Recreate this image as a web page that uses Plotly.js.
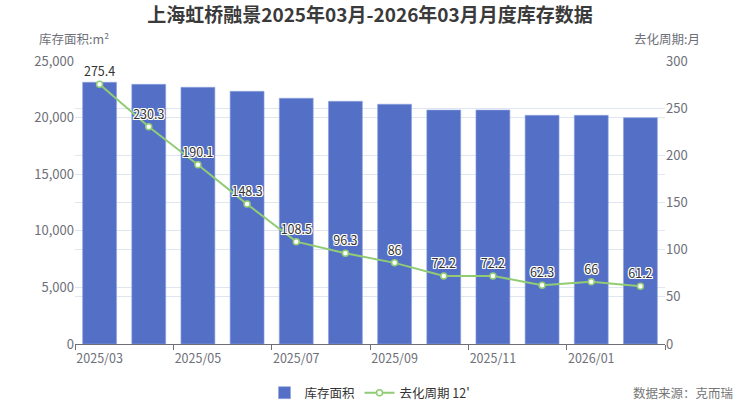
<!DOCTYPE html>
<html lang="zh">
<head>
    <meta charset="UTF-8">
    <title>上海虹桥融景库存数据</title>
    <script src="https://cdn.plot.ly/plotly-3.0.1.min.js"></script>
    <style>
        html, body { margin: 0; padding: 0; background: #fff; }
        #chart { width: 740px; height: 406px; }
    </style>
</head>
<body>
<div id="chart"></div>
<script>
    // 月份
    let months = ['2025/03', '2025/04', '2025/05', '2025/06', '2025/07', '2025/08',
        '2025/09', '2025/10', '2025/11', '2025/12', '2026/01', '2026/02'];
    // 库存面积 (m²)
    let stockArea = [23120, 22940, 22680, 22320, 21710, 21440,
        21180, 20670, 20670, 20200, 20200, 19990];
    // 去化周期 (月)
    let cycleMonths = [275.4, 230.3, 190.1, 148.3, 108.5, 96.3,
        86, 72.2, 72.2, 62.3, 66, 61.2];

    let font = '"Noto Sans CJK SC", "Noto Sans", sans-serif';
    let halo = '1px 1px 0 #fff, -1px -1px 0 #fff, 1px -1px 0 #fff, -1px 1px 0 #fff, 0 1px 0 #fff, 0 -1px 0 #fff, 1px 0 0 #fff, -1px 0 0 #fff';

    let barTrace = {
        x: months,
        y: stockArea,
        type: 'bar',
        name: '库存面积',
        marker: {color: '#5470c6', line: {color: '#8fa3e0', width: 0.6}},
        hoverinfo: 'x+y'
    };

    let lineTrace = {
        x: months,
        y: cycleMonths,
        type: 'scatter',
        mode: 'lines+markers+text',
        name: "去化周期 12'",
        yaxis: 'y2',
        text: cycleMonths.map(v => String(v)),
        textposition: 'top center',
        textfont: {family: font, size: 12.5, color: '#333', shadow: halo},
        line: {color: '#91cc75', width: 2},
        marker: {symbol: 'circle', size: 6, color: '#fff', line: {color: '#91cc75', width: 1.5}},
        cliponaxis: false
    };

    let layout = {
        width: 740,
        height: 406,
        margin: {l: 75, r: 75, t: 61, b: 62, autoexpand: false},
        paper_bgcolor: '#fff',
        plot_bgcolor: '#fff',
        font: {family: font, size: 12, color: '#6e7079'},
        title: {
            text: '<b>上海虹桥融景2025年03月-2026年03月月度库存数据</b>',
            font: {family: font, size: 19, color: '#3a3a3a'},
            x: 0.5, xanchor: 'center',
            y: 0.962, yanchor: 'middle'
        },
        bargap: 0.31,
        showlegend: true,
        legend: {
            orientation: 'h',
            x: 0.5, xanchor: 'center',
            yref: 'container',
            y: 0.032, yanchor: 'middle',
            font: {family: font, size: 12.5, color: '#333'},
            itemwidth: 30
        },
        xaxis: {
            type: 'category',
            range: [-0.5, 11.5],
            tickson: 'boundaries',
            tickmode: 'linear',
            tick0: 0,
            dtick: 2,
            tickangle: 0,
            ticks: 'outside',
            ticklen: 5,
            tickcolor: '#6e7079',
            ticklabelstandoff: 3,
            showline: true,
            linecolor: '#6e7079',
            linewidth: 1,
            showgrid: false,
            automargin: false,
            tickfont: {size: 12.5, color: '#6e7079'},
            fixedrange: true
        },
        yaxis: {
            range: [0, 25000],
            tickvals: [0, 5000, 10000, 15000, 20000, 25000],
            tickformat: ',',
            showgrid: true,
            gridcolor: '#e0e6f1',
            zeroline: false,
            showline: false,
            ticks: '',
            automargin: false,
            tickfont: {size: 13, color: '#6e7079'},
            fixedrange: true
        },
        yaxis2: {
            overlaying: 'y',
            side: 'right',
            range: [0, 300],
            tickvals: [0, 50, 100, 150, 200, 250, 300],
            showgrid: true,
            gridcolor: '#e0e6f1',
            zeroline: false,
            showline: false,
            ticks: '',
            automargin: false,
            tickfont: {size: 13, color: '#6e7079'},
            fixedrange: true
        },
        annotations: [
            {
                text: '库存面积:m²', xref: 'paper', yref: 'paper',
                x: -0.002, y: 1.08, xanchor: 'center', yanchor: 'middle',
                showarrow: false, font: {family: font, size: 12.5, color: '#6e7079'}
            },
            {
                text: '去化周期:月', xref: 'paper', yref: 'paper',
                x: 1.003, y: 1.08, xanchor: 'center', yanchor: 'middle',
                showarrow: false, font: {family: font, size: 12.5, color: '#6e7079'}
            },
            {
                text: '数据来源：克而瑞', xref: 'paper', yref: 'paper',
                x: 1.118, y: -0.173, xanchor: 'right', yanchor: 'middle',
                showarrow: false, font: {family: font, size: 12.5, color: '#777'}
            }
        ]
    };

    Plotly.newPlot('chart', [barTrace, lineTrace], layout, {displayModeBar: false, staticPlot: true});
</script>
</body>
</html>
